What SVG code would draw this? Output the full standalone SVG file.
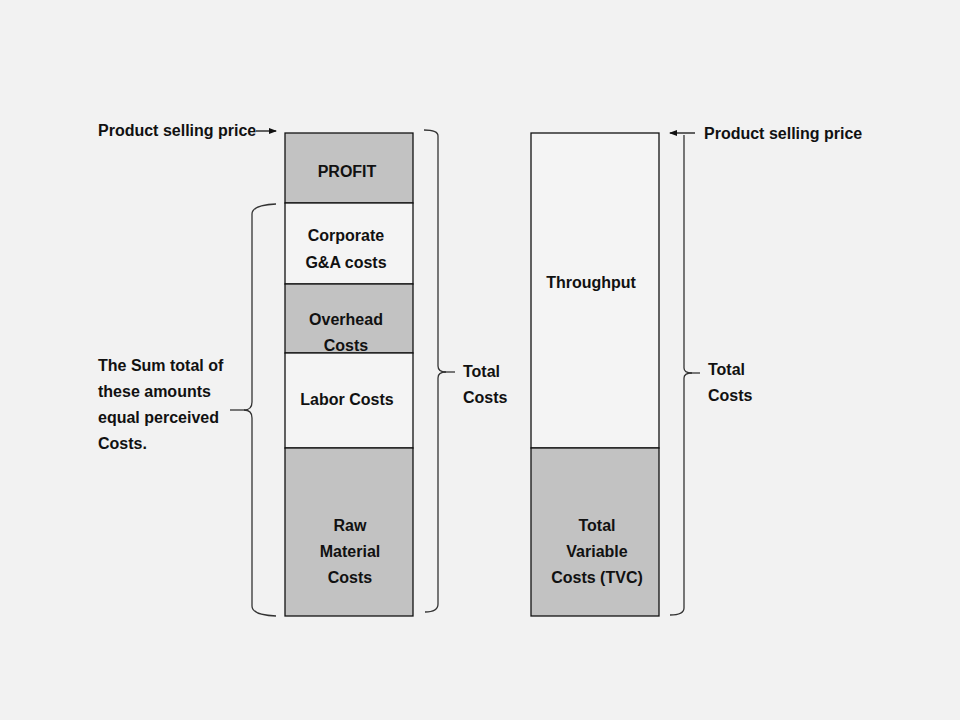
<svg xmlns="http://www.w3.org/2000/svg" width="960" height="720" viewBox="0 0 960 720">
<defs>
<style>
.t{font-family:"Liberation Sans",Arial,sans-serif;font-weight:bold;font-size:16px;fill:#111}
.c{text-anchor:middle}
.box{stroke:#111;stroke-width:1.3}
.g{fill:#c2c2c2}
.w{fill:#f4f4f4}
.br{fill:none;stroke:#333;stroke-width:1.3}
.ar{stroke:#111;stroke-width:1.3;fill:none}
</style>
<marker id="ah" markerWidth="8" markerHeight="6" refX="7" refY="3" orient="auto" markerUnits="userSpaceOnUse">
<path d="M0,0 L8,3 L0,6 Z" fill="#111"/>
</marker>
</defs>
<rect width="960" height="720" fill="#f2f2f2"/>
<g id="left-column">
<g id="profit"><rect class="box g" x="285" y="133" width="128" height="70"/><text class="t c" x="347" y="177">PROFIT</text></g>
<g id="corporate"><rect class="box w" x="285" y="203" width="128" height="81"/><text class="t c" x="346" y="241">Corporate</text><text class="t c" x="346" y="268">G&amp;A costs</text></g>
<g id="overhead"><rect class="box g" x="285" y="284" width="128" height="69"/><text class="t c" x="346" y="325">Overhead</text><text class="t c" x="346" y="351">Costs</text></g>
<g id="labor"><rect class="box w" x="285" y="353" width="128" height="95"/><text class="t c" x="347" y="405">Labor Costs</text></g>
<g id="raw"><rect class="box g" x="285" y="448" width="128" height="168"/><text class="t c" x="350" y="531">Raw</text><text class="t c" x="350" y="557">Material</text><text class="t c" x="350" y="583">Costs</text></g>
</g>
<g id="right-column">
<g id="throughput"><rect class="box w" x="531" y="133" width="128" height="315"/><text class="t c" x="591" y="288">Throughput</text></g>
<g id="tvc"><rect class="box g" x="531" y="448" width="128" height="168"/><text class="t c" x="597" y="531">Total</text><text class="t c" x="597" y="557">Variable</text><text class="t c" x="597" y="583">Costs (TVC)</text></g>
</g>
<g id="labels">
<text class="t" x="98" y="136">Product selling price</text>
<text class="t" x="704" y="139">Product selling price</text>
<text class="t" x="98" y="371">The Sum total of</text>
<text class="t" x="98" y="397">these amounts</text>
<text class="t" x="98" y="423">equal perceived</text>
<text class="t" x="98" y="449">Costs.</text>
<text class="t" x="463" y="377">Total</text>
<text class="t" x="463" y="403">Costs</text>
<text class="t" x="708" y="375">Total</text>
<text class="t" x="708" y="401">Costs</text>
</g>
<g id="connectors">
<line class="ar" x1="256" y1="131" x2="276" y2="131" marker-end="url(#ah)"/>
<line class="ar" x1="695" y1="133" x2="670" y2="133" marker-end="url(#ah)"/>
<path class="br" d="M276,204 Q252,205 252,214 L252,402 Q252,410 244,410 Q252,410 252,418 L252,606 Q252,615 276,616"/>
<line class="br" x1="230" y1="410" x2="245" y2="410"/>
<path class="br" d="M424,130 Q438,130 438,136 L438,366 Q438,372 446,372 Q438,372 438,378 L438,604 Q438,612 425,612"/>
<line class="br" x1="444" y1="372" x2="455" y2="372"/>
<path class="br" d="M684,135 L684,368 Q684,373 692,373 Q684,373 684,378 L684,608 Q684,615 670,615"/>
<line class="br" x1="690" y1="373" x2="700" y2="373"/>
</g>
</svg>
